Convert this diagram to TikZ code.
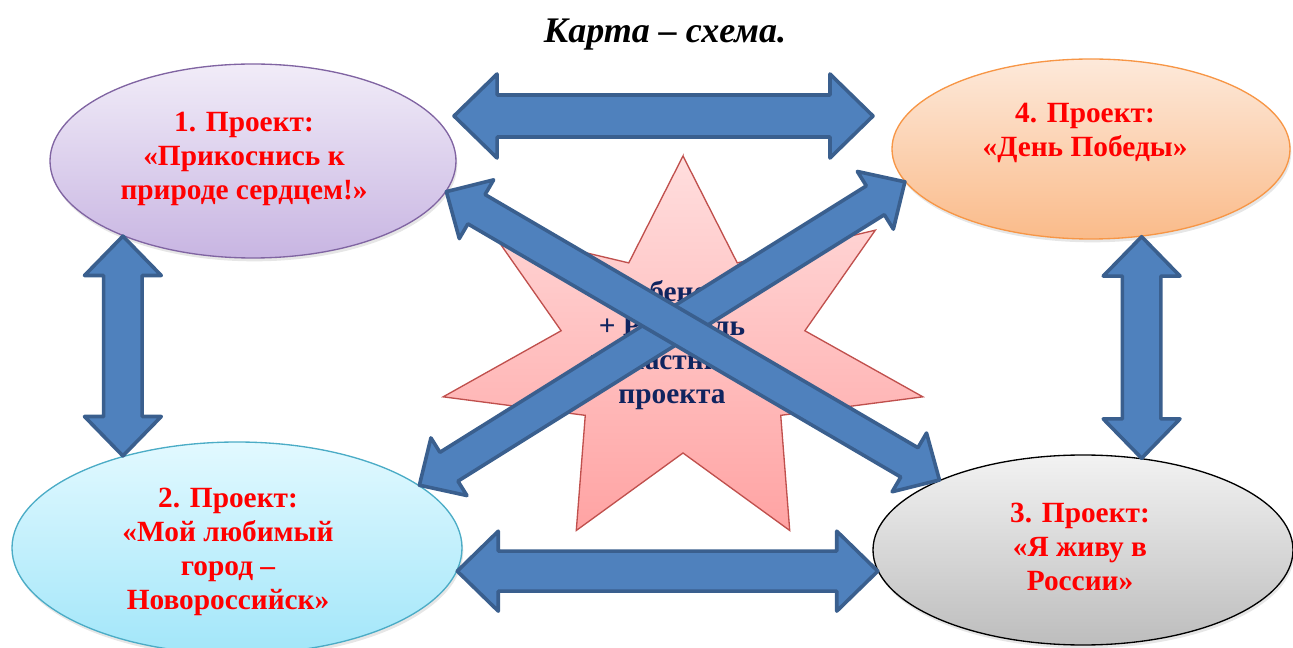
\documentclass[tikz,border=0pt]{standalone}
\usepackage{fontspec}
\setmainfont{Liberation Serif}
\usetikzlibrary{shapes.geometric,calc,shadows}

\definecolor{arrfill}{HTML}{4F81BD}
\definecolor{arrline}{HTML}{3A5F8E}
\definecolor{navy}{HTML}{10245F}
\definecolor{violetline}{HTML}{8064A2}
\definecolor{violettop}{HTML}{F1ECF8}
\definecolor{violetbot}{HTML}{C8B5E2}
\definecolor{orangeline}{HTML}{F79646}
\definecolor{orangetop}{HTML}{FDE9DA}
\definecolor{orangebot}{HTML}{FABB8A}
\definecolor{cyanline}{HTML}{4BACC6}
\definecolor{cyantop}{HTML}{E2F9FF}
\definecolor{cyanbot}{HTML}{A2E6F9}
\definecolor{greytop}{HTML}{F2F2F2}
\definecolor{greybot}{HTML}{BDBDBD}
\definecolor{starline}{HTML}{C0504D}
\definecolor{startop}{HTML}{FFDEDE}
\definecolor{starbot}{HTML}{FFA3A3}

\tikzset{
  proj/.style={ellipse, draw, line width=1pt, inner sep=0pt,
    drop shadow={shadow xshift=1pt, shadow yshift=-2.5pt, opacity=0.2}},
  projtext/.style={text=red, align=center, font=\bfseries\fontsize{22}{25.5}\selectfont},
  startext/.style={text=navy, align=center, font=\bfseries\fontsize{22}{25.5}\selectfont},
  starfill/.style={draw=starline, line width=1pt, top color=startop, bottom color=starbot},
  arrblock/.style={draw=arrline, fill=arrfill, line width=2.7pt, line join=round}
}

% double block arrow from #2 to #3, #1 scales its width
\newcommand\blockarrow[3][1]{%
  \path let \p1=(#2), \p2=(#3) in \pgfextra{%
    \pgfmathsetmacro\baang{atan2(\y2-\y1,\x2-\x1)}%
    \pgfmathsetmacro\balen{veclen(\x2-\x1,\y2-\y1)}%
    \xdef\barot{\baang}\xdef\bal{\balen}};
  \pgfmathsetmacro\bas{15*#1}\pgfmathsetmacro\bah{30*#1}\pgfmathsetmacro\bak{30.75*#1}%
  \pgfmathsetmacro\bam{\bal-\bak}%
  \draw[arrblock, shift={(#2)}, rotate=\barot]
    (0pt,0pt) -- (\bak pt,\bah pt) -- (\bak pt,\bas pt) -- (\bam pt,\bas pt)
    -- (\bam pt,\bah pt) -- (\bal pt,0pt) -- (\bam pt,-\bah pt) -- (\bam pt,-\bas pt)
    -- (\bak pt,-\bas pt) -- (\bak pt,-\bah pt) -- cycle;
}

\begin{document}
\begin{tikzpicture}[x=0.75pt, y=-0.75pt]
  \useasboundingbox (0,0) rectangle (1293,648);
  \clip (0,0) rectangle (1293,648);

  \node[font=\bfseries\itshape\fontsize{27}{31}\selectfont, anchor=base] (title) at (665,43) {Карта – схема.};

  % projects
  \node[proj, draw=violetline, top color=violettop, bottom color=violetbot,
    minimum width=304.5pt, minimum height=145.5pt] (p1) at (253,161) {};
  \node[proj, draw=cyanline, top color=cyantop, bottom color=cyanbot,
    minimum width=337.5pt, minimum height=159pt] (p2) at (237,548) {};
  \node[proj, draw=black, top color=greytop, bottom color=greybot,
    minimum width=315pt, minimum height=142.5pt] (p3) at (1083,550) {};
  \node[proj, draw=orangeline, top color=orangetop, bottom color=orangebot,
    minimum width=298.5pt, minimum height=135pt] (p4) at (1091,149) {};

  \node[projtext] (l1) at (244,158.5) {1. Проект:\\«Прикоснись к\\природе сердцем!»};
  \node[projtext] (l2) at (228,551.5) {2. Проект:\\«Мой любимый\\город –\\Новороссийск»};
  \node[projtext] (l3) at (1080,547) {3. Проект:\\«Я живу в\\России»};
  \node[projtext] (l4) at (1085,132.5) {4. Проект:\\«День Победы»};

  % star
  \draw[starfill] (683,156) \foreach \i in {0,...,6} {
      -- ({683+125*cos(115.714+51.4286*\i)}, {353-100*sin(115.714+51.4286*\i)})
      -- ({683+246*cos(141.429+51.4286*\i)}, {353-197*sin(141.429+51.4286*\i)}) } -- cycle;
  \node[startext] (kid) at (672,345) {Ребенок\\+ Родитель\\= участники\\проекта};

  % arrows
  \coordinate (topl) at (454,116);
  \coordinate (topr) at (873,116);
  \blockarrow[1.05]{topl}{topr}
  \blockarrow[0.96]{p1.210}{p1.210 |- p2.141}
  \blockarrow[0.96]{p4.300}{p4.300 |- p3.57}
  \blockarrow{p2.354}{p2.354 -| p3.186}
  \blockarrow[0.85]{p2.19}{p4.190}
  \blockarrow[0.85]{p1.351}{p3.154}
\end{tikzpicture}
\end{document}
